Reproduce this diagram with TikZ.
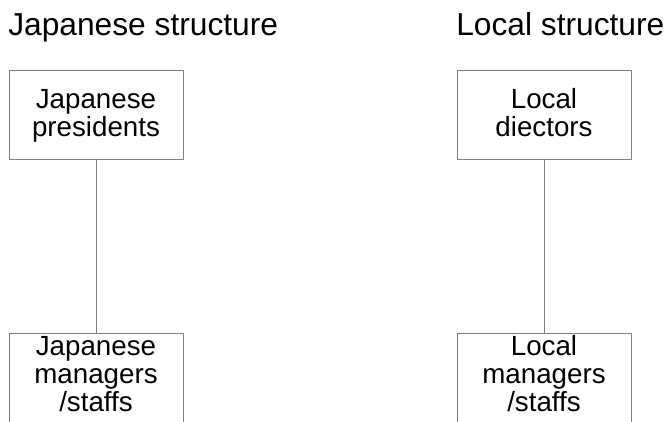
\documentclass[tikz,border=0pt]{standalone}
\usepackage{fontspec}
\setmainfont{Liberation Sans}
\definecolor{edgegray}{RGB}{128,128,128}
\begin{document}
\begin{tikzpicture}[x=0.75pt,y=-0.75pt,
  title/.style={anchor=base west,inner sep=0pt,font=\fontsize{23.8}{23.8}\selectfont},
  orgbox/.style={draw=edgegray,line width=0.75pt,minimum width=174*0.75pt,inner sep=0pt},
  % anchor=base sits on the baseline of the last line
  boxtext/.style={align=center,anchor=base,inner sep=0pt,font=\fontsize{20.8}{20.8}\selectfont},
  link/.style={draw=edgegray,line width=0.75pt}]
\useasboundingbox (0,0) rectangle (670,421);
\clip (0,0) rectangle (670,421);

% column headings
\node[title] (jtitle) at (8,35) {Japanese structure};
\node[title] (ltitle) at (456,35) {Local structure};

% Japanese column
\node[orgbox,minimum height=89*0.75pt] (jp) at (96,114.5) {};
\node[boxtext] (jptext) at (96,136) {Japanese\\presidents};
\node[orgbox,minimum height=140*0.75pt,anchor=north] (jm) at (96,333) {};
\node[boxtext] (jmtext) at (96,411) {Japanese\\managers\\/staffs};
\draw[link] (jp) -- (jm);

% Local column
\node[orgbox,minimum height=89*0.75pt] (ld) at (544,114.5) {};
\node[boxtext] (ldtext) at (544,136) {Local\\diectors};
\node[orgbox,minimum height=140*0.75pt,anchor=north] (lm) at (544,333) {};
\node[boxtext] (lmtext) at (544,411) {Local\\managers\\/staffs};
\draw[link] (ld) -- (lm);
\end{tikzpicture}
\end{document}
